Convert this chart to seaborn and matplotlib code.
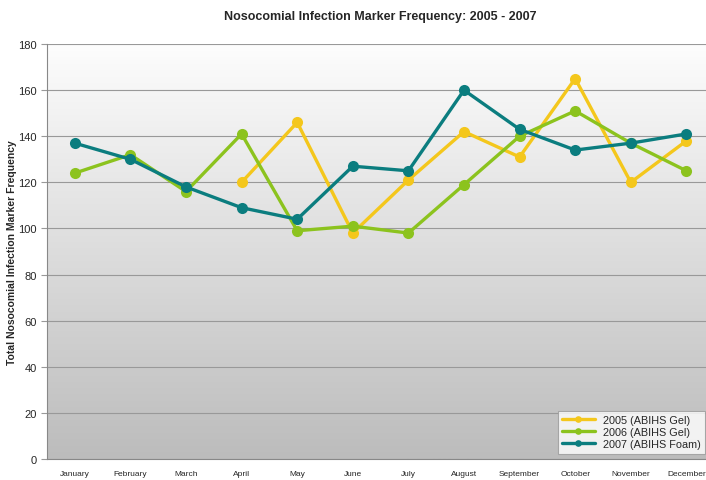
import numpy as np
import pandas as pd
import seaborn as sns
import matplotlib.pyplot as plt

# Data
months = ['January', 'February', 'March', 'April', 'May', 'June',
          'July', 'August', 'September', 'October', 'November', 'December']
gel_2005 = [np.nan, np.nan, np.nan, 120, 146, 98, 121, 142, 131, 165, 120, 138]
gel_2006 = [124, 132, 116, 141, 99, 101, 98, 119, 140, 151, 137, 125]
foam_2007 = [137, 130, 118, 109, 104, 127, 125, 160, 143, 134, 137, 141]
series_names = ['2005 (ABIHS Gel)', '2006 (ABIHS Gel)', '2007 (ABIHS Foam)']
colors = ['#f4c71c', '#8cc31e', '#0b7d7f']

df = pd.concat([
    pd.DataFrame({'month': months, 'value': vals, 'series': name})
    for name, vals in zip(series_names, [gel_2005, gel_2006, foam_2007])
]).dropna()

sns.set_style('white')
plt.rcParams['font.family'] = ['Liberation Sans', 'DejaVu Sans']

fig = plt.figure(figsize=(7.06, 4.81), dpi=100)
ax = fig.add_axes([0.0666, 0.0437, 0.945, 0.8627])

# gradient background
grad = np.linspace(0, 1, 256).reshape(-1, 1)
ax.imshow(grad, aspect='auto', cmap=plt.matplotlib.colors.LinearSegmentedColormap.from_list(
    'bg', ['#bcbcbc', '#fdfdfd']), extent=[-0.5, 11.5, 0, 180], origin='lower', zorder=0)

for i, name in enumerate(series_names):
    sub = df[df['series'] == name]
    x = [months.index(m) for m in sub['month']]
    sns.lineplot(x=x, y=sub['value'].values, ax=ax, color=colors[i], marker='o',
                 markersize=8, markeredgewidth=0, linewidth=2.4, label=name, zorder=3)

ax.set_xlim(-0.5, 11.5)
ax.set_ylim(0, 180)
ax.set_yticks(range(0, 181, 20))
ax.set_xticks(range(12))
ax.set_xticklabels(months, fontsize=6)
ax.tick_params(axis='x', length=0, pad=8)
ax.set_xticks(np.arange(-0.5, 12, 1), minor=True)
ax.tick_params(axis='x', which='minor', length=4, color='#999999', direction='out')
ax.tick_params(axis='y', labelsize=8, length=4, color='#999999', direction='out', left=True)
ax.grid(axis='y', color='#999999', linewidth=0.8)
for gl in ax.get_ygridlines():
    gl.set_zorder(1)
for s in ['top', 'right']:
    ax.spines[s].set_visible(False)
ax.spines['left'].set_color('#888888')
ax.spines['bottom'].set_color('#888888')

ax.set_xlabel('')
ax.set_ylabel('Total Nosocomial Infection Marker Frequency', fontsize=7.5, fontweight='bold')
ax.yaxis.set_label_coords(-0.045, 0.5)
ax.set_title('Nosocomial Infection Marker Frequency: 2005 - 2007', fontsize=9,
             fontweight='bold', pad=18)

leg = ax.legend(loc='lower right', bbox_to_anchor=(0.995, 0.0), fontsize=7.8, frameon=True,
                fancybox=False, handlelength=3, markerscale=0.6, borderpad=0.4,
                labelspacing=0.2)
leg.get_frame().set_edgecolor('#999999')
leg.get_frame().set_linewidth(0.8)

fig.savefig('out.png', dpi=100)
